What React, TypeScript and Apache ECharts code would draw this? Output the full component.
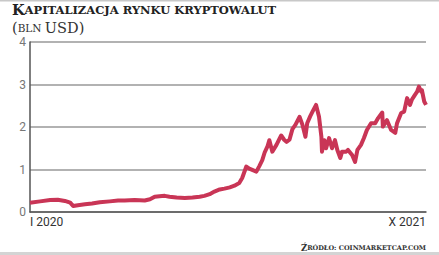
import React, { useEffect, useRef } from "react";
import * as echarts from "echarts";

// x positions are days since 1 Jan 2020 (chart spans I 2020 – X 2021)
const pixelX: number[] = [
  30, 40, 50, 58, 65, 70, 73, 78, 85, 92, 100, 110, 118, 125, 135, 145, 150, 155, 160, 165,
  170, 177, 185, 193, 200, 205, 210, 215, 220, 225, 230, 235, 240, 243, 247, 250, 253, 257, 260, 263,
  265, 268, 270, 273, 277, 280, 282, 285, 287, 290, 293, 296, 300, 303, 306, 308, 311, 313, 317, 320,
  322, 323, 325, 327, 330, 333, 336, 338, 341, 343, 347, 349, 353, 356, 358, 362, 365, 368, 372, 376,
  379, 383, 384, 388, 392, 396, 398, 402, 405, 408, 411, 413, 416, 418, 420, 422, 423, 425, 427,
];
const capValues: number[] = [
  0.22, 0.25, 0.28, 0.29, 0.26, 0.22, 0.14, 0.16, 0.18, 0.2, 0.23, 0.25, 0.27, 0.27, 0.28, 0.27, 0.3, 0.36, 0.37, 0.38,
  0.36, 0.34, 0.33, 0.34, 0.36, 0.38, 0.42, 0.48, 0.53, 0.55, 0.58, 0.62, 0.68, 0.8, 1.07, 1.02, 0.99, 0.95, 1.08, 1.22,
  1.4, 1.55, 1.69, 1.42, 1.58, 1.72, 1.8, 1.7, 1.65, 1.7, 1.95, 2.05, 2.24, 2.05, 1.77, 2.09, 2.25, 2.36, 2.52, 2.24,
  1.77, 1.42, 1.69, 1.5, 1.74, 1.5, 1.69, 1.46, 1.27, 1.42, 1.42, 1.46, 1.34, 1.18, 1.46, 1.58, 1.74, 1.93, 2.09, 2.09,
  2.21, 2.34, 2.01, 2.16, 1.93, 1.86, 2.09, 2.33, 2.36, 2.68, 2.52, 2.64, 2.75, 2.83, 2.95, 2.83, 2.87, 2.6, 2.52,
];
const xLabels: string[] = ["I 2020", "X 2021"];
const yTicks: number[] = [0, 1, 2, 3, 4];

const TOTAL_DAYS = 670;
const dayIndex = pixelX.map((p) => Math.round(((p - 30) * TOTAL_DAYS) / 397));

export default function App() {
  const ref = useRef<HTMLDivElement>(null);
  useEffect(() => {
    if (!ref.current) return;
    const chart = echarts.init(ref.current, null, { renderer: "svg" });
    chart.setOption({
      animation: false,
      backgroundColor: "#ffffff",
      grid: { left: 30, right: 13, top: 42, bottom: 43 },
      graphic: [
        { type: "rect", shape: { x: 0, y: 0, width: 439, height: 1.5 }, style: { fill: "#c8c8c8" } },
        { type: "rect", shape: { x: 0, y: 252, width: 439, height: 3 }, style: { fill: "#d4d4d4" } },
        {
          type: "text",
          left: 12,
          top: 2,
          style: {
            text: "{a|K}{b|APITALIZACJA RYNKU KRYPTOWALUT}",
            rich: {
              a: { fontFamily: "DejaVu Serif", fontWeight: "bold", fontSize: 14.5, lineHeight: 14, fill: "#222" },
              b: { fontFamily: "DejaVu Serif", fontWeight: "bold", fontSize: 11.5, lineHeight: 14, fill: "#222" },
            },
          },
        },
        {
          type: "text",
          left: 12,
          top: 20,
          style: {
            text: "{a|(}{b|BLN }{a|USD)}",
            rich: {
              a: { fontFamily: "DejaVu Serif", fontSize: 14.5, lineHeight: 14, fill: "#333" },
              b: { fontFamily: "DejaVu Serif", fontSize: 10.5, lineHeight: 14, fill: "#333" },
            },
          },
        },
        {
          type: "text",
          right: 13,
          top: 243,
          style: {
            text: "{a|Ź}{b|RÓDŁO: COINMARKETCAP.COM}",
            rich: {
              a: { fontFamily: "DejaVu Serif", fontWeight: "bold", fontSize: 8.5, fill: "#333" },
              b: { fontFamily: "DejaVu Serif", fontWeight: "bold", fontSize: 6.5, fill: "#333" },
            },
          },
        },
      ],
      xAxis: {
        type: "value",
        min: 0,
        max: TOTAL_DAYS,
        interval: TOTAL_DAYS,
        axisLine: { show: true, lineStyle: { color: "#555", width: 1.5 } },
        axisTick: { show: false },
        splitLine: { show: false },
        axisLabel: {
          formatter: (v: number) => (v === 0 ? xLabels[0] : xLabels[1]),
          alignMinLabel: "left",
          alignMaxLabel: "right",
          margin: 4,
          color: "#333",
          fontSize: 12,
          fontFamily: "Liberation Sans Narrow, Roboto, sans-serif",
        },
      },
      yAxis: {
        type: "value",
        min: yTicks[0],
        max: yTicks[yTicks.length - 1],
        interval: 1,
        axisLine: { show: true, lineStyle: { color: "#555", width: 1.5 } },
        axisTick: { show: false },
        splitLine: { show: true, lineStyle: { color: "#999", width: 1.5 } },
        axisLabel: {
          margin: 4,
          color: "#777",
          fontSize: 12,
          fontFamily: "Liberation Sans Narrow, Roboto, sans-serif",
        },
      },
      series: [
        {
          type: "line",
          data: dayIndex.map((d, i) => [d, capValues[i]]),
          showSymbol: false,
          lineStyle: { color: "#c93556", width: 4, join: "round" },
          z: 5,
        },
      ],
    });
    return () => chart.dispose();
  }, []);
  return (
    <div
      ref={ref}
      style={{ position: "absolute", left: 0, top: 0, width: 439, height: 255 }}
    />
  );
}
